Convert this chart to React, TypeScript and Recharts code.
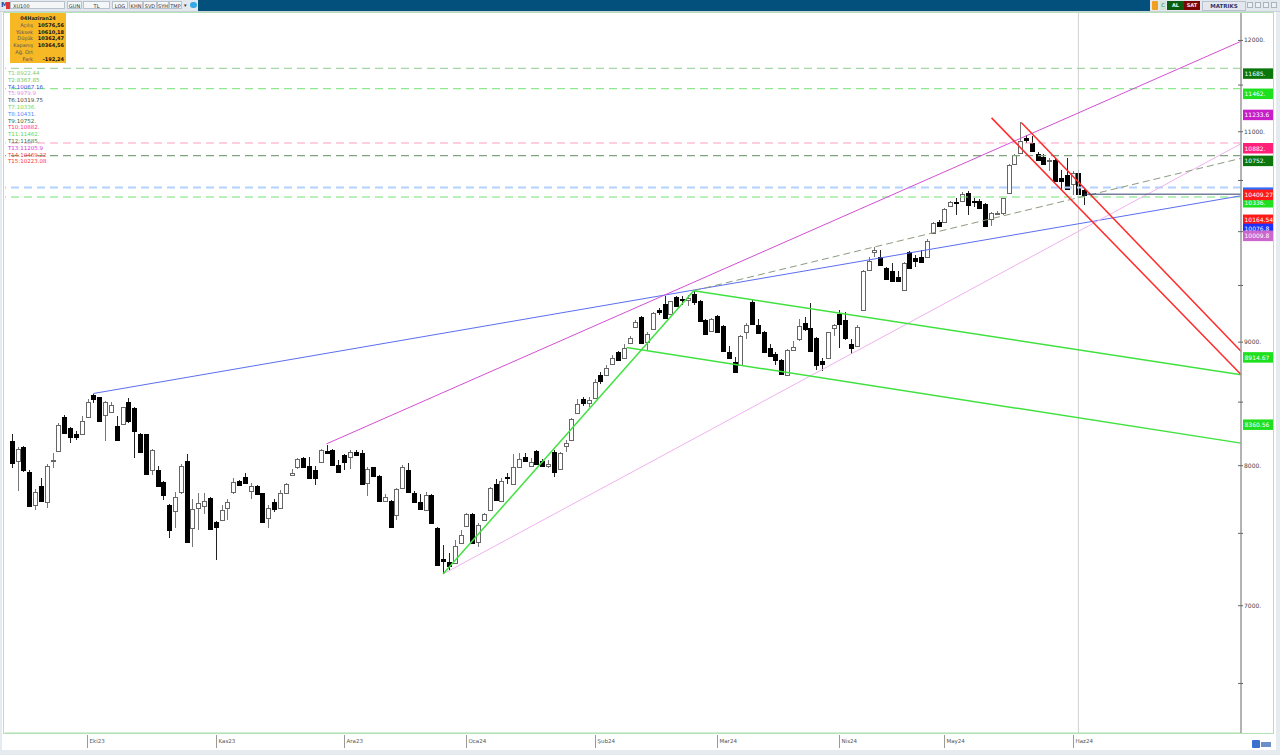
import { ComposedChart, Bar, XAxis, YAxis, ReferenceLine } from 'recharts';

// daily candles, XU100, mid-Sep 2023 .. 5 Jun 2024
const OPEN = [
  8188, 8032, 8140, 7952, 7702, 7845, 7727, 8038, 8113, 8382,
  8291, 8248, 8248, 8382, 8559, 8538, 8398, 8417, 8310, 8323,
  8498, 8452, 8248, 8242, 7964, 7964, 7874, 7702, 7662, 7805,
  8032, 7536, 7686, 7695, 7757, 7584, 7595, 7686, 7805, 7881,
  7916, 7809, 7845, 7793, 7612, 7731, 7684, 7793, 7926, 7988,
  8062, 8000, 7964, 8027, 8116, 8121, 8008, 8081, 8067, 8108,
  8094, 7869, 7988, 7921, 7738, 7738, 7636, 7833, 7964, 7798,
  7731, 7667, 7779, 7541, 7322, 7298, 7291, 7429, 7552, 7643,
  7441, 7595, 7667, 7864, 7738, 7914, 7862, 7993, 8067, 7995,
  8113, 8032, 7995, 8108, 7976, 8148, 8202, 8409, 8524, 8490,
  8532, 8720, 8726, 8812, 8914, 8866, 8990, 9127, 9220, 9000,
  9112, 9281, 9333, 9242, 9392, 9380, 9365, 9423, 9356, 9190,
  9099, 9229, 9144, 8914, 8828, 8807, 9084, 9350, 9151, 9090,
  8946, 8901, 8847, 8721, 8936, 9024, 9169, 9120, 9039, 8839,
  8861, 9121, 9242, 9190, 8981, 8968, 9281, 9644, 9807, 9764,
  9659, 9628, 9574, 9462, 9804, 9755, 9764, 9764, 9986, 10093,
  10097, 10251, 10291, 10298, 10375, 10298, 10298, 10265, 10120, 10170,
  10184, 10375, 10666, 10776, 10933, 10877, 10766, 10742, 10692, 10709,
  10525, 10552, 10468, 10576.56, 10408,
];
const HIGH = [
  8242, 8145, 8148, 7964, 7821, 7905, 8016, 8097, 8329, 8398,
  8301, 8269, 8390, 8524, 8564, 8543, 8511, 8498, 8390, 8463,
  8532, 8463, 8256, 8248, 8129, 8000, 7881, 7714, 7805, 8014,
  8086, 7750, 7798, 7791, 7762, 7591, 7709, 7750, 7905, 7893,
  7941, 7869, 7857, 7798, 7702, 7750, 7817, 7869, 7976, 8062,
  8070, 8067, 8000, 8125, 8162, 8126, 8041, 8089, 8121, 8121,
  8121, 7988, 7993, 7929, 7786, 7745, 7833, 8008, 8019, 7809,
  7786, 7802, 7786, 7548, 7417, 7358, 7452, 7524, 7648, 7648,
  7572, 7648, 7838, 7900, 7905, 7941, 8086, 8094, 8094, 8059,
  8121, 8054, 8041, 8121, 8102, 8202, 8371, 8524, 8538, 8538,
  8691, 8747, 8806, 8887, 8927, 8981, 9054, 9190, 9229, 9085,
  9265, 9302, 9401, 9362, 9401, 9401, 9416, 9453, 9371, 9205,
  9211, 9235, 9151, 8968, 8873, 9060, 9169, 9380, 9205, 9099,
  8981, 8914, 8855, 8941, 9009, 9205, 9220, 9341, 9048, 8865,
  9090, 9160, 9281, 9265, 9024, 9145, 9644, 9764, 9855, 9825,
  9665, 9704, 9628, 9719, 9816, 9780, 9825, 9931, 10093, 10107,
  10231, 10298, 10325, 10385, 10398, 10325, 10318, 10275, 10194, 10198,
  10331, 10666, 10766, 11102, 10967, 10960, 10786, 10766, 10726, 10726,
  10609, 10732, 10592, 10610.18, 10425,
];
const LOW = [
  7986, 7809, 7952, 7691, 7667, 7727, 7686, 7986, 8107, 8248,
  8175, 8202, 8242, 8377, 8490, 8337, 8188, 8409, 8194, 8318,
  8329, 8059, 8102, 7929, 7929, 7840, 7743, 7465, 7536, 7786,
  7434, 7405, 7524, 7638, 7524, 7310, 7591, 7595, 7786, 7845,
  7864, 7750, 7779, 7579, 7541, 7655, 7679, 7786, 7921, 7976,
  7984, 7898, 7857, 8022, 8089, 8000, 7945, 7969, 7976, 8076,
  7857, 7769, 7912, 7731, 7727, 7541, 7595, 7826, 7798, 7727,
  7667, 7659, 7565, 7274, 7215, 7238, 7286, 7424, 7548, 7429,
  7405, 7591, 7662, 7738, 7734, 7862, 7857, 7988, 8027, 7988,
  8006, 7988, 7981, 7916, 7971, 8107, 8194, 8403, 8470, 8457,
  8524, 8645, 8720, 8806, 8839, 8861, 8981, 9118, 8990, 8936,
  9106, 9235, 9205, 9235, 9314, 9326, 9320, 9326, 9175, 9060,
  9093, 9084, 8919, 8855, 8742, 8801, 9024, 9151, 9069, 8914,
  8874, 8807, 8726, 8713, 8927, 9009, 9099, 8919, 8766, 8758,
  8855, 9054, 8954, 9015, 8901, 8962, 9272, 9635, 9764, 9683,
  9553, 9537, 9537, 9447, 9653, 9673, 9713, 9755, 9976, 10042,
  10093, 10241, 10157, 10285, 10157, 10241, 10218, 10050, 10057, 10157,
  10157, 10368, 10659, 10766, 10877, 10792, 10699, 10659, 10599, 10492,
  10408, 10408, 10358, 10362.47, 10258,
];
const CLOSE = [
  8022, 8129, 7964, 7695, 7800, 7734, 8000, 8045, 8318, 8256,
  8221, 8221, 8350, 8498, 8524, 8345, 8498, 8479, 8202, 8458,
  8345, 8269, 8107, 7934, 8121, 7845, 7781, 7524, 7762, 7995,
  7441, 7679, 7722, 7734, 7529, 7548, 7672, 7727, 7874, 7852,
  7869, 7850, 7786, 7584, 7684, 7679, 7793, 7864, 7945, 8054,
  7988, 7905, 7905, 8121, 8094, 8008, 7952, 8027, 8108, 8081,
  7864, 7976, 7921, 7738, 7762, 7548, 7826, 7993, 7802, 7731,
  7674, 7779, 7572, 7279, 7308, 7267, 7410, 7488, 7643, 7434,
  7560, 7643, 7829, 7743, 7881, 7909, 7988, 8054, 8032, 8027,
  8014, 8000, 8014, 7952, 8094, 8175, 8363, 8484, 8490, 8516,
  8664, 8672, 8785, 8865, 8847, 8946, 9039, 9175, 8994, 9070,
  9251, 9260, 9211, 9356, 9320, 9371, 9386, 9350, 9181, 9070,
  9205, 9090, 8927, 8865, 8748, 9054, 9151, 9160, 9078, 8919,
  8882, 8847, 8732, 8936, 8960, 9139, 9115, 8927, 8807, 8812,
  9084, 9151, 9160, 9039, 8946, 9127, 9628, 9725, 9825, 9689,
  9562, 9544, 9544, 9704, 9659, 9725, 9719, 9916, 10087, 10052,
  10218, 10285, 10281, 10365, 10258, 10285, 10225, 10057, 10184, 10178,
  10325, 10659, 10759, 10900, 10910, 10799, 10709, 10666, 10709, 10498,
  10498, 10418, 10575, 10364.56, 10358,
];

// month ticks (bar index of first session)
const MONTH_IDX = [13, 35, 57, 78, 100, 121, 142, 160, 182];
const MONTH_LBL = ['Eki23', 'Kas23', 'Ara23', 'Oca24', 'Şub24', 'Mar24', 'Nis24', 'May24', 'Haz24'];

const Y_TICKS = [6500, 7000, 7500, 8000, 8500, 9000, 9500, 10000, 10500, 11000, 11500, 12000];
// 10000 sits under the price tags, so it gets no label
const Y_LABELED = [7000, 8000, 9000, 11000, 12000];

// horizontal dashed levels
const LEVELS = [
  { v: 11685, color: '#a6d6a6', w: 1.2 },
  { v: 11462, color: '#8fea8f', w: 1.2 },
  { v: 10882, color: '#ffa0c4', w: 1.2 },
  { v: 10752, color: '#7fa57f', w: 1.2 },
  { v: 10431, color: '#b4d2ff', w: 2 },
  { v: 10336, color: '#74e074', w: 1.2 },
];

// price tags on the right scale
const TAGS = [
  { v: 11685, text: '11685.', bg: '#0b760b' },
  { v: 11462, text: '11462.', bg: '#1ee01e' },
  { v: 11233.6, text: '11233.6', bg: '#c81ec8' },
  { v: 10882, text: '10882.', bg: '#ff1f78' },
  { v: 10752, text: '10752.', bg: '#0b760b' },
  { v: 10431, text: '', bg: '#2f6cff' },
  { v: 10336, text: '10336.', bg: '#1ee01e' },
  { v: 10409.27, text: '10409.27', bg: '#ff1a1a' },
  { v: 10164.54, text: '10164.54', bg: '#ff1a1a' },
  { v: 10076.8, text: '10076.8', bg: '#1f2fff' },
  { v: 10009.8, text: '10009.8', bg: '#cc66cc' },
  { v: 8914.67, text: '8914.67', bg: '#1ee01e' },
  { v: 8360.56, text: '8360.56', bg: '#1ee01e' },
];

// trend lines: [x1, y1, x2, y2] in bar index / price
const TRENDS = [
  { p: [14, 8570, 210.9, 10348], color: '#5b6ef2', w: 1, dash: undefined },
  { p: [54, 8168, 210.9, 11990], color: '#d24fd2', w: 1, dash: undefined },
  { p: [74, 7215, 210.9, 10875], color: '#efb2ef', w: 1, dash: undefined },
  { p: [117, 9453, 210.9, 10724], color: '#8c9c80', w: 1, dash: '7 4' },
  { p: [74, 7215, 117, 9453], color: '#3fe23f', w: 1.5, dash: undefined },
  { p: [117, 9453, 210.9, 8724], color: '#3fe23f', w: 1.5, dash: undefined },
  { p: [105.5, 8954, 210.9, 8174], color: '#3fe23f', w: 1.5, dash: undefined },
  { p: [168.1, 11146, 210.9, 8726], color: '#ff2a2a', w: 1.5, dash: undefined },
  { p: [173.2, 11096, 210.9, 8922], color: '#ff2a2a', w: 1.5, dash: undefined },
  { p: [184, 10364, 210.9, 10364], color: '#2c3e66', w: 1, dash: undefined },
];

const LEFT_LABELS = [
  { t: 'T1:8922.44', c: '#7ccd7c' },
  { t: 'T2:8367.85', c: '#5fc95f' },
  { t: 'T4:10067.16', c: '#4455ee' },
  { t: 'T5:9979.9', c: '#e08ae0' },
  { t: 'T6:10319.75', c: '#444444' },
  { t: 'T7:10336.', c: '#6fd84f' },
  { t: 'T8:10431.', c: '#5588ff' },
  { t: 'T9:10752.', c: '#336633' },
  { t: 'T10:10882.', c: '#ff3377' },
  { t: 'T11:11462.', c: '#55dd55' },
  { t: 'T12:11685.', c: '#447744' },
  { t: 'T13:11205.9', c: '#dd33dd' },
  { t: 'T14:10469.22', c: '#ff4444' },
  { t: 'T15:10223.08', c: '#ff3333' },
];

const INFO = [
  ['Açılış', '10576,56'],
  ['Yüksek', '10610,18'],
  ['Düşük', '10362,47'],
  ['Kapanış', '10364,56'],
  ['Ağ. Ort', ''],
  ['Fark', '-192,24'],
];

const data = OPEN.map((o, i) => ({
  i,
  o,
  h: HIGH[i],
  l: LOW[i],
  c: CLOSE[i],
  range: [LOW[i], HIGH[i]],
}));

const FONT = '"DejaVu Sans", Verdana, sans-serif';

const Candle = (props: any) => {
  const { x, y, width, height, payload } = props;
  if (!payload) return null;
  const { o, h, l, c } = payload;
  const lh = Math.log(h);
  const ll = Math.log(l);
  const py = (v: number) => y + (height * (lh - Math.log(v))) / (lh - ll || 1);
  const cx = Math.round(x + width / 2) + 0.5;
  const up = c >= o;
  const top = Math.round(py(Math.max(o, c))) + 0.5;
  const bot = Math.round(py(Math.min(o, c))) + 0.5;
  return (
    <g shapeRendering="crispEdges">
      <line x1={cx} x2={cx} y1={y} y2={y + height} stroke={up ? '#777' : '#222'} />
      <rect
        x={cx - 2}
        y={top}
        width={4}
        height={Math.max(bot - top, 1)}
        fill={up ? '#fff' : '#000'}
        stroke={up ? '#666' : '#000'}
      />
    </g>
  );
};

const XTick = ({ x, y, payload }: any) => {
  const k = MONTH_IDX.indexOf(payload.value);
  const lx = Math.round(x) + 0.5;
  return (
    <g>
      <line x1={lx} x2={lx} y1={y + 2} y2={y + 15} stroke="#999" />
      <text x={lx + 2} y={y + 10} fontSize={5.5} fill="#555" fontFamily={FONT}>
        {MONTH_LBL[k]}
      </text>
    </g>
  );
};

const YTick = ({ x, y, payload }: any) => {
  const v = payload.value;
  return (
    <g>
      <line x1={x - 3} x2={x + 2} y1={y} y2={y} stroke="#666" />
      {Y_LABELED.includes(v) && (
        <text x={x + 3} y={y + 2} fontSize={6} fill="#444" fontFamily={FONT}>
          {`${v}.`}
        </text>
      )}
    </g>
  );
};

const Tag = ({ viewBox, text, bg }: any) => {
  if (!viewBox) return null;
  const x = viewBox.x + viewBox.width + 2;
  const y = viewBox.y;
  return (
    <g>
      <rect x={x} y={y} width={31} height={10.5} fill={bg} />
      {text && (
        <text x={x + 1.5} y={y + 7.5} fontSize={6} fill="#fff" fontFamily={FONT}>
          {text}
        </text>
      )}
    </g>
  );
};

export default function App() {
  return (
    <div style={{ position: 'absolute', left: 0, top: 0, width: 1280, height: 755, background: '#fff', fontFamily: FONT, overflow: 'hidden' }}>
      <ComposedChart width={1280} height={755} data={data} margin={{ top: 12, right: 5, left: 5, bottom: 5 }}>
        <XAxis
          dataKey="i"
          type="number"
          domain={[-1.15, 210.9]}
          allowDataOverflow
          ticks={MONTH_IDX}
          tick={<XTick />}
          tickLine={false}
          tickSize={0}
          tickMargin={0}
          axisLine={{ stroke: '#a8dca8' }}
          height={17}
          interval={0}
        />
        <YAxis
          orientation="right"
          scale="log"
          domain={[6200, 12330]}
          allowDataOverflow
          ticks={Y_TICKS}
          tick={<YTick />}
          tickLine={false}
          tickSize={0}
          tickMargin={0}
          axisLine={{ stroke: '#9a9a9a', strokeWidth: 1.5 }}
          width={34}
          interval={0}
        />
        <ReferenceLine x={183} stroke="#d0d0d0" />
        {LEVELS.map((lv) => (
          <ReferenceLine key={`lv-${lv.v}`} y={lv.v} stroke={lv.color} strokeWidth={lv.w} strokeDasharray="8 5" />
        ))}
        {TRENDS.map((t, k) => (
          <ReferenceLine
            key={`tr-${k}`}
            segment={[{ x: t.p[0], y: t.p[1] }, { x: t.p[2], y: t.p[3] }]}
            stroke={t.color}
            strokeWidth={t.w}
            strokeDasharray={t.dash}
            ifOverflow="visible"
          />
        ))}
        <Bar dataKey="range" shape={(p: any) => <Candle {...p} />} barSize={4} isAnimationActive={false} />
        {TAGS.map((tg) => (
          <ReferenceLine
            key={`tag-${tg.v}`}
            y={tg.v}
            stroke="none"
            ifOverflow="visible"
            label={<Tag text={tg.text} bg={tg.bg} />}
          />
        ))}
      </ComposedChart>

      {/* frame */}
      <div style={{ position: 'absolute', left: 3, top: 12, width: 1269, height: 720, border: '1px solid #b4e2b4', pointerEvents: 'none' }} />
      <div style={{ position: 'absolute', left: 0, top: 750, width: 1280, height: 5, background: '#e6ebf0' }} />
      <div style={{ position: 'absolute', left: 1276, top: 11, width: 4, height: 744, background: '#e6ebf0' }} />
      <div style={{ position: 'absolute', left: 0, top: 11, width: 2, height: 744, background: '#e6ebf0' }} />
      <div style={{ position: 'absolute', left: 1252, top: 740, width: 8, height: 8, background: '#3b6fd0', borderRadius: 1 }} />
      <div style={{ position: 'absolute', left: 1261, top: 742, width: 10, height: 5, background: '#6b8fc8' }} />

      {/* toolbar */}
      <div style={{ position: 'absolute', left: 0, top: 0, width: 1280, height: 11, background: '#e2e8ee', borderBottom: '1px solid #c9d1d9' }} />
      <div style={{ position: 'absolute', left: 1, top: 1, fontSize: 7, fontWeight: 700, color: '#1f4fa0', lineHeight: '9px' }}>M</div>
      <div style={{ position: 'absolute', left: 6, top: 2, width: 5, height: 7, background: '#d33' }} />
      {[
        { l: 10, w: 55, t: 'XU100', a: 'left' },
        { l: 67, w: 15, t: 'GUN', a: 'center' },
        { l: 83, w: 27, t: 'TL', a: 'center' },
        { l: 112, w: 16, t: 'LOG', a: 'center' },
        { l: 129, w: 14, t: 'KHN', a: 'center' },
        { l: 143, w: 14, t: 'SVD', a: 'center' },
        { l: 157, w: 12, t: 'SYH', a: 'center' },
        { l: 169, w: 13, t: 'TMP', a: 'center' },
      ].map((b) => (
        <div
          key={b.t}
          style={{
            position: 'absolute', left: b.l, top: 1, width: b.w, height: 8, border: '1px solid #b8c2cc', background: '#f4f6f8',
            fontSize: 5, lineHeight: '8px', color: '#333', textAlign: b.a as any, paddingLeft: b.a === 'left' ? 2 : 0, boxSizing: 'border-box',
          }}
        >
          {b.t}
        </div>
      ))}
      <div style={{ position: 'absolute', left: 184, top: 3, fontSize: 5, color: '#234', lineHeight: '5px' }}>▾</div>
      <div style={{ position: 'absolute', left: 190, top: 2, width: 7, height: 6, background: '#35a9e8', borderRadius: 3 }} />
      <div style={{ position: 'absolute', left: 198, top: 0, width: 952, height: 11, background: '#04507c' }} />
      <div style={{ position: 'absolute', left: 1152, top: 1, width: 6, height: 9, background: '#f0a020', borderRadius: 1 }} />
      <div style={{ position: 'absolute', left: 1160, top: 1, width: 6, height: 9, background: '#cfe6d6', fontSize: 5, lineHeight: '9px', color: '#1a7a5a', textAlign: 'center' }}>C</div>
      <div style={{ position: 'absolute', left: 1167, top: 1, width: 17, height: 9, background: '#0c5c12', fontSize: 5, lineHeight: '9px', color: '#e8ffe8', textAlign: 'center', fontWeight: 700 }}>AL</div>
      <div style={{ position: 'absolute', left: 1184, top: 1, width: 16, height: 9, background: '#7a0606', fontSize: 5, lineHeight: '9px', color: '#ffe8e8', textAlign: 'center', fontWeight: 700 }}>SAT</div>
      <div style={{ position: 'absolute', left: 1202, top: 1, width: 42, height: 8, background: '#e4e8ee', border: '1px solid #b8c2cc', fontSize: 5.5, lineHeight: '8px', color: '#2a3a70', textAlign: 'center', fontWeight: 700 }}>MATRIKS</div>
      {[1247, 1255, 1263, 1271].map((l) => (
        <div key={l} style={{ position: 'absolute', left: l, top: 2, width: 6, height: 6, border: '1px solid #aab4bf', background: '#eef1f4', boxSizing: 'border-box' }} />
      ))}

      {/* info box */}
      <div style={{ position: 'absolute', left: 10, top: 13, width: 56, height: 50, background: '#f7b826' }}>
        <div style={{ position: 'absolute', left: 0, top: 2, width: 56, textAlign: 'center', fontSize: 5, fontWeight: 700, color: '#222', lineHeight: '6px' }}>04Haziran24</div>
        {INFO.map(([k, v], n) => (
          <div key={k}>
            <div style={{ position: 'absolute', right: 33, top: 9 + n * 6.7, fontSize: 5, color: '#555', lineHeight: '6px', whiteSpace: 'nowrap' }}>{k}</div>
            <div style={{ position: 'absolute', right: 2, top: 9 + n * 6.7, fontSize: 5, fontWeight: 700, color: '#111', lineHeight: '6px', whiteSpace: 'nowrap' }}>{v}</div>
          </div>
        ))}
      </div>

      {/* tool labels */}
      {LEFT_LABELS.map((lb, n) => (
        <div key={lb.t} style={{ position: 'absolute', left: 8, top: 70 + n * 6.8, fontSize: 5.5, color: lb.c, lineHeight: '6px', whiteSpace: 'nowrap' }}>
          {lb.t}
        </div>
      ))}
    </div>
  );
}
